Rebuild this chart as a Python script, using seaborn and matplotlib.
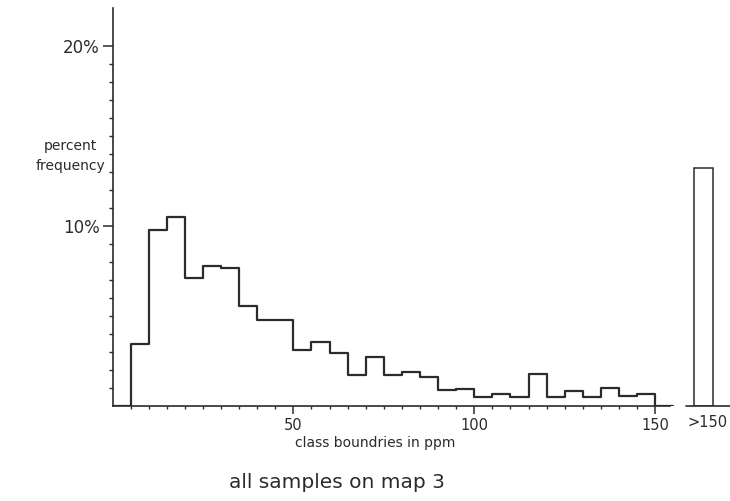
import numpy as np
import matplotlib
matplotlib.use("Agg")
import matplotlib.pyplot as plt
import seaborn as sns

# class boundaries (ppm) and percent frequency per 5 ppm class
bin_edges = list(range(0, 160, 5))
percent = [0, 3.44, 9.8, 10.5, 7.1, 7.8, 7.67, 5.57, 4.78, 4.78,
           3.09, 3.54, 2.94, 1.7, 2.7, 1.7, 1.87, 1.62, 0.88, 0.97,
           0.5, 0.65, 0.5, 1.75, 0.5, 0.85, 0.5, 1.0, 0.57, 0.68, 0]
over_label = ">150"
over_percent = 13.2

x_ticks = [50, 100, 150]
y_ticks = [10, 20]
y_tick_labels = ["10%", "20%"]

ink = "#2b2b2b"

sns.set_style("white")
plt.rcParams["font.family"] = ["DejaVu Sans"]

fig = plt.figure(figsize=(7.3, 5.01), dpi=100)
ax = fig.add_axes([112.5 / 730, 95 / 501, 617.5 / 730, 398 / 501])

centers = [e + 2.5 for e in bin_edges[:-1]]
sns.histplot(x=centers, weights=percent, bins=bin_edges, element="step",
             fill=False, color=ink, linewidth=1.6, ax=ax)

# separate class for everything above 150 ppm
over_x = 163.4
sns.histplot(x=[over_x], weights=[over_percent], bins=[over_x - 2.55, over_x + 2.55],
             element="bars", fill=False, color=ink, linewidth=1.1, ax=ax)

ax.set_xlim(0, 170.7)
ax.set_ylim(0, 22.1)

for s in ["top", "right"]:
    ax.spines[s].set_visible(False)
ax.spines["left"].set_color(ink)
ax.spines["left"].set_linewidth(1.2)
ax.spines["bottom"].set_color(ink)
ax.spines["bottom"].set_linewidth(1.2)
ax.spines["bottom"].set_bounds(0, 154)
ax.plot([over_x - 4.8, 170.7], [0, 0], color=ink, lw=1.2, clip_on=False)

ax.set_xticks(x_ticks)
ax.set_xticklabels([str(t) for t in x_ticks])
ax.set_xticks([t for t in range(5, 151, 5) if t not in x_ticks], minor=True)
ax.set_yticks(y_ticks)
ax.set_yticklabels(y_tick_labels)
ax.set_yticks([t for t in range(1, 20) if t not in y_ticks], minor=True)

ax.tick_params(axis="x", which="both", bottom=True)
ax.tick_params(axis="y", which="both", left=True)
ax.tick_params(axis="x", which="major", direction="out", length=5.5, width=1.1,
               color=ink, labelcolor=ink, labelsize=10.5, pad=3)
ax.tick_params(axis="x", which="minor", direction="out", length=2.5, width=1.0, color=ink)
ax.tick_params(axis="y", which="major", direction="out", length=7, width=1.1,
               color=ink, labelcolor=ink, labelsize=12, pad=2)
ax.tick_params(axis="y", which="minor", direction="out", length=3, width=1.0, color=ink)
ax.set_xlabel("")
ax.set_ylabel("")

ax.text(over_x + 1, -0.5, over_label, ha="center", va="top", fontsize=10.5, color=ink)
fig.text(70 / 730, 1 - 156 / 501, "percent\nfrequency", ha="center", va="center",
         fontsize=10, color=ink, linespacing=1.5)
fig.text(375 / 730, 1 - 443 / 501, "class boundries in ppm", ha="center", va="center",
         fontsize=10, color=ink)
fig.text(337 / 730, 1 - 483 / 501, "all samples on map 3", ha="center", va="center",
         fontsize=14.5, color=ink)

fig.savefig("out.png", dpi=100)
